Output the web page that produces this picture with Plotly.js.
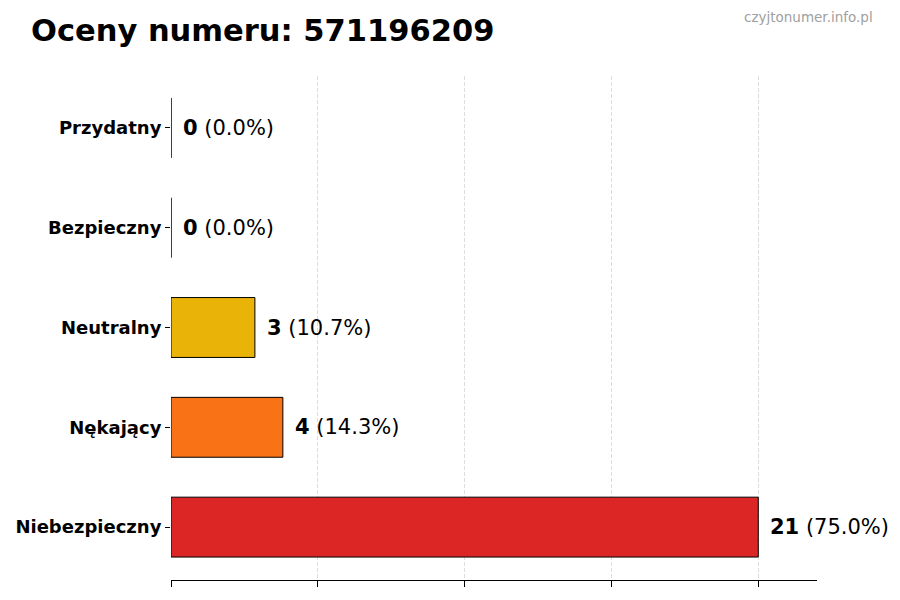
<!DOCTYPE html>
<html>
<head>
<meta charset="utf-8">
<script src="https://cdn.plot.ly/plotly-3.0.1.min.js"></script>
<style>html,body{margin:0;padding:0;background:#fff;}#chart{width:900px;height:600px;}</style>
</head>
<body>
<div id="chart"></div>
<script>
const categories = ["Niebezpieczny", "Nękający", "Neutralny", "Bezpieczny", "Przydatny"];
const counts = [21, 4, 3, 0, 0];
const percents = ["75.0%", "14.3%", "10.7%", "0.0%", "0.0%"];
const colors = ["#dc2626", "#f97316", "#eab308", "#22c55e", "#3b82f6"];
const titleText = "Oceny numeru: 571196209";
const watermark = "czyjtonumer.info.pl";

const maxVal = Math.max(...counts);
const tickVals = [0, 1, 2, 3, 4].map(i => maxVal * i / 4);

const trace = {
  type: "bar",
  orientation: "h",
  y: categories.map((c, i) => i),
  x: counts,
  width: 0.6,
  marker: { color: colors, line: { color: "#000", width: 1 } },
  hoverinfo: "none"
};

const annotations = categories.map((c, i) => ({
  x: counts[i], y: i, xref: "x", yref: "y",
  text: "<b>" + counts[i] + "</b> (" + percents[i] + ")",
  showarrow: false, xanchor: "left", yanchor: "middle", xshift: 10,
  font: { family: "DejaVu Sans", size: 21, color: "#000" }
}));
annotations.push({
  xref: "paper", yref: "paper", x: 1.0898, y: 1.117, xanchor: "right", yanchor: "middle",
  text: watermark, showarrow: false,
  font: { family: "DejaVu Sans", size: 13.5, color: "#a0a0a0" }
});

const layout = {
  width: 900, height: 600,
  margin: { l: 171, r: 83, t: 76, b: 20 },
  paper_bgcolor: "#fff", plot_bgcolor: "#fff",
  title: { text: "<b>" + titleText + "</b>", x: 31 / 900, xanchor: "left", xref: "container", y: 1 - 30 / 600, yanchor: "middle", yref: "container",
           font: { family: "DejaVu Sans", size: 30.5, color: "#000" } },
  xaxis: {
    range: [0, maxVal * 1.1], tickvals: tickVals, showticklabels: false,
    ticks: "outside", ticklen: 6, tickcolor: "#000",
    showgrid: true, gridcolor: "#dddddd", griddash: "4px,2px", gridwidth: 1,
    showline: true, linecolor: "#000", linewidth: 1, zeroline: false, fixedrange: true
  },
  yaxis: {
    range: [-0.53, 4.52], tickvals: [0, 1, 2, 3, 4], ticktext: categories.map(c => "<b>" + c + "</b>"),
    ticks: "outside", ticklen: 5, tickcolor: "#000",
    tickfont: { family: "DejaVu Sans", size: 18, color: "#000" },
    showgrid: false, showline: false, zeroline: false, fixedrange: true
  },
  annotations: annotations,
  showlegend: false
};

Plotly.newPlot("chart", [trace], layout, { displayModeBar: false, staticPlot: true });
</script>
</body>
</html>
